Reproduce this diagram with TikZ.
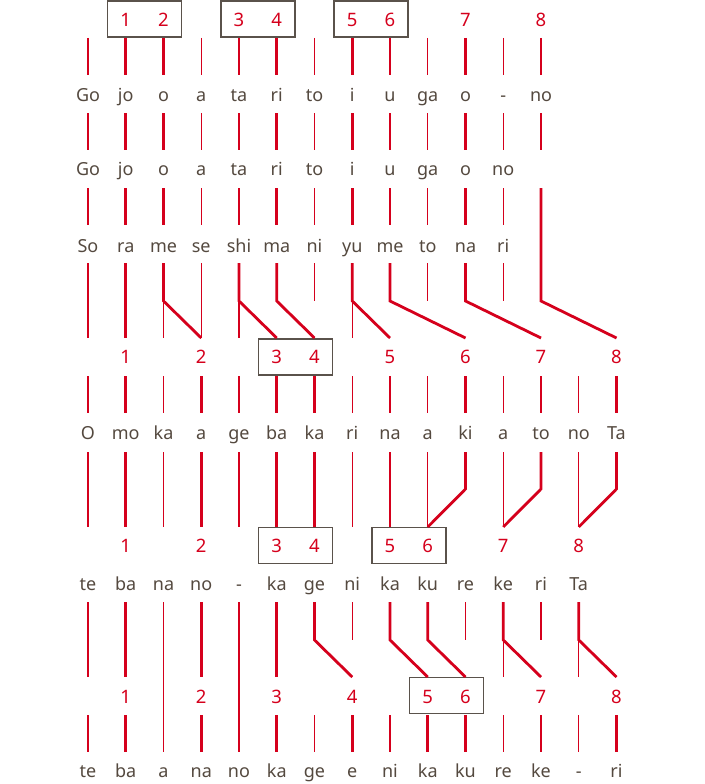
\documentclass[tikz,border=0pt]{standalone}
\usepackage{fontspec}
\setmainfont{Noto Sans}
\usetikzlibrary{positioning}
\definecolor{lyric}{HTML}{54493F}
\definecolor{beat}{HTML}{D5001C}
\definecolor{frame}{HTML}{5A524B}

\begin{document}
\begin{tikzpicture}[x=1pt, y=1pt,
    word/.style={anchor=base, text=lyric, font=\fontsize{18}{21}\selectfont},
    num/.style={anchor=base, text=beat, font=\fontsize{18.5}{21}\selectfont},
    pairbox/.style={draw=frame, line width=1.5pt, minimum width=74pt, minimum height=36pt, inner sep=0pt},
    thinbar/.style={draw=beat, line width=1.4pt},
    thickbar/.style={draw=beat, line width=2.8pt}]
    \useasboundingbox (0,0) rectangle (704,-784);

    % end points of the bars, one level per row gap
    \foreach \lv/\yy in {top1/38, bot1/75, top2/113, bot2/150, top3/188, bot3/225,
        top4/263, mid4/301, bot4/338, top5/376, bot5/413, top6/452, mid6/489, bot6/527,
        top7/602, mid7/640, bot7/677, top8/715, bot8/752}
      \foreach \c in {0,...,14}
        \coordinate (\lv-\c) at ({88+37.75*\c},-\yy);

    % count boxes
    \node[pairbox] (boxa-1) at ({88+37.75*1.5},-19) {};
    \node[pairbox] (boxa-2) at ({88+37.75*4.5},-19) {};
    \node[pairbox] (boxa-3) at ({88+37.75*7.5},-19) {};
    \node[pairbox] (boxb-1) at ({88+37.75*5.5},-357) {};
    \node[pairbox] (boxc-1) at ({88+37.75*5.5},-545.5) {};
    \node[pairbox] (boxc-2) at ({88+37.75*8.5},-545.5) {};
    \node[pairbox] (boxd-1) at ({88+37.75*9.5},-695.5) {};

    % counts
    \foreach \n/\c in {1/1,2/2,3/4,4/5,5/7,6/8,7/10,8/12}
      \node[num] (na-\n) at ({88+37.75*\c},-27) {\n};
    \foreach \n/\c in {1/1,2/3,3/5,4/6,5/8,6/10,7/12,8/14}
      \node[num] (nb-\n) at ({88+37.75*\c},-363) {\n};
    \foreach \n/\c in {1/1,2/3,3/5,4/6,5/8,6/9,7/11,8/13}
      \node[num] (nc-\n) at ({88+37.75*\c},-552) {\n};
    \foreach \n/\c in {1/1,2/3,3/5,4/7,5/9,6/10,7/12,8/14}
      \node[num] (nd-\n) at ({88+37.75*\c},-703) {\n};

    % syllables
    \foreach \w [count=\c from 0] in {Go,jo,o,a,ta,ri,to,i,u,ga,o,-,no}
      \node[word] (wa-\c) at ({88+37.75*\c},-101) {\w};
    \foreach \w [count=\c from 0] in {Go,jo,o,a,ta,ri,to,i,u,ga,o,no}
      \node[word] (wb-\c) at ({88+37.75*\c},-175) {\w};
    \foreach \w [count=\c from 0] in {So,ra,me,se,shi,ma,ni,yu,me,to,na,ri}
      \node[word] (wc-\c) at ({88+37.75*\c},-252) {\w};
    \foreach \w [count=\c from 0] in {O,mo,ka,a,ge,ba,ka,ri,na,a,ki,a,to,no,Ta}
      \node[word] (wd-\c) at ({88+37.75*\c},-439) {\w};
    \foreach \w [count=\c from 0] in {te,ba,na,no,-,ka,ge,ni,ka,ku,re,ke,ri,Ta}
      \node[word] (we-\c) at ({88+37.75*\c},-590) {\w};
    \foreach \w [count=\c from 0] in {te,ba,a,na,no,ka,ge,e,ni,ka,ku,re,ke,-,ri}
      \node[word] (wf-\c) at ({88+37.75*\c},-777) {\w};

    % bars, gaps 1 to 3
    \foreach \s in {1,2}
      \foreach \c/\st in {0/thinbar,1/thickbar,2/thickbar,3/thinbar,4/thickbar,5/thickbar,6/thinbar,
          7/thickbar,8/thickbar,9/thinbar,10/thickbar,11/thinbar,12/thickbar}
        \draw[\st] (top\s-\c) -- (bot\s-\c);
    \foreach \c/\st in {0/thinbar,1/thickbar,2/thickbar,3/thinbar,4/thickbar,5/thickbar,6/thinbar,
        7/thickbar,8/thickbar,9/thinbar,10/thickbar,11/thinbar}
      \draw[\st] (top3-\c) -- (bot3-\c);
    \draw[thickbar] (top3-12) -- (mid4-12) -- (bot4-14);

    % gap 4
    \foreach \c/\st in {0/thinbar,1/thickbar,3/thinbar}
      \draw[\st] (top4-\c) -- (bot4-\c);
    \foreach \c in {6,9,11}
      \draw[thinbar] (top4-\c) -- (mid4-\c);
    \foreach \c in {2,4,7}
      \draw[thinbar] (mid4-\c) -- (bot4-\c);
    \foreach \c/\d in {2/3,4/5,5/6,7/8,8/10,10/12}
      \draw[thickbar] (top4-\c) -- (mid4-\c) -- (bot4-\d);

    % gap 5
    \foreach \c/\st in {0/thinbar,1/thickbar,2/thinbar,3/thickbar,4/thinbar,5/thickbar,6/thickbar,7/thinbar,
        8/thickbar,9/thinbar,10/thickbar,11/thinbar,12/thickbar,13/thinbar,14/thickbar}
      \draw[\st] (top5-\c) -- (bot5-\c);

    % gap 6
    \foreach \c/\st in {0/thinbar,1/thickbar,2/thinbar,3/thickbar,4/thinbar,5/thickbar,6/thickbar,7/thinbar,
        8/thickbar,9/thinbar,11/thinbar,13/thinbar}
      \draw[\st] (top6-\c) -- (bot6-\c);
    \foreach \c/\d in {10/9,12/11,14/13}
      \draw[thickbar] (top6-\c) -- (mid6-\c) -- (bot6-\d);

    % gap 7
    \foreach \c/\st in {0/thinbar,1/thickbar,3/thickbar,5/thickbar}
      \draw[\st] (top7-\c) -- (bot7-\c);
    \foreach \c in {2,4}
      \draw[thinbar] (top7-\c) -- (bot8-\c);
    \foreach \c in {7,10,12}
      \draw[thinbar] (top7-\c) -- (mid7-\c);
    \foreach \c in {11,13}
      \draw[thinbar] (mid7-\c) -- (bot7-\c);
    \foreach \c/\d in {6/7,8/9,9/10,11/12,13/14}
      \draw[thickbar] (top7-\c) -- (mid7-\c) -- (bot7-\d);

    % gap 8
    \foreach \c/\st in {0/thinbar,1/thickbar,3/thickbar,5/thickbar,6/thinbar,7/thickbar,8/thinbar,
        9/thickbar,10/thickbar,11/thinbar,12/thickbar,13/thinbar,14/thickbar}
      \draw[\st] (top8-\c) -- (bot8-\c);
  \end{tikzpicture}
\end{document}
